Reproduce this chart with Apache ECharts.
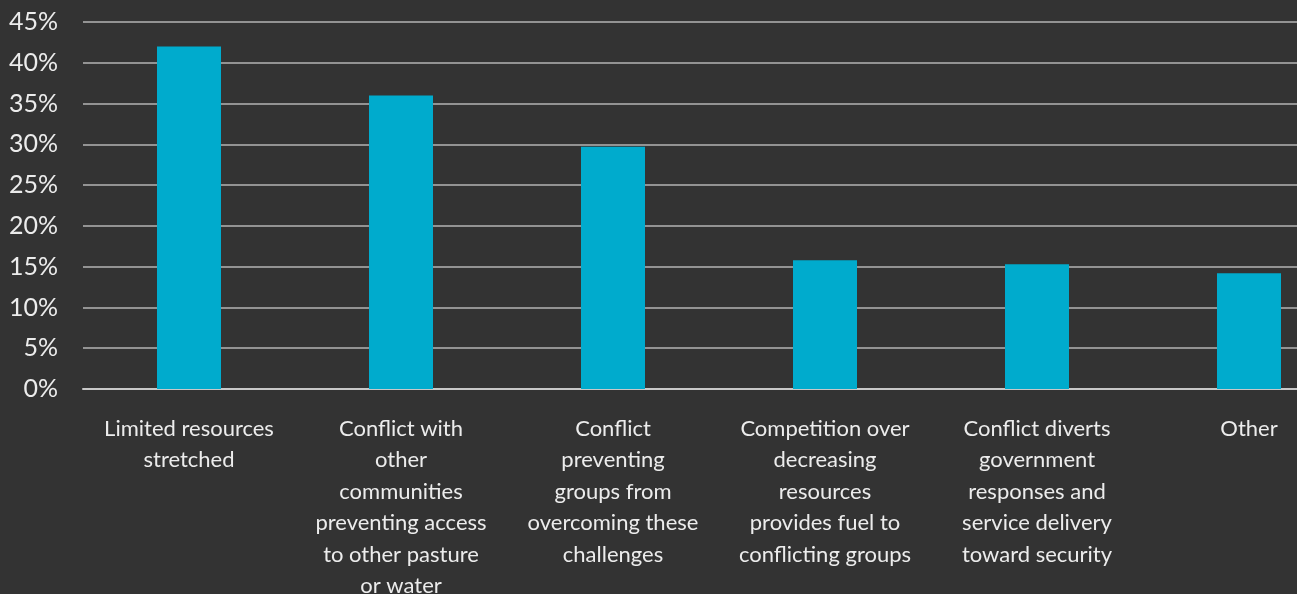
<!DOCTYPE html>
<html><head><meta charset="utf-8">
<script src="https://cdn.jsdelivr.net/npm/echarts@6/dist/echarts.min.js"></script>
<style>html,body{margin:0;padding:0;background:#333333;}#c{width:1297px;height:594px;}</style>
</head><body><div id="c"></div>
<script>
const categories = [
  "Limited resources\nstretched",
  "Conflict with\nother\ncommunities\npreventing access\nto other pasture\nor water",
  "Conflict\npreventing\ngroups from\novercoming these\nchallenges",
  "Competition over\ndecreasing\nresources\nprovides fuel to\nconflicting groups",
  "Conflict diverts\ngovernment\nresponses and\nservice delivery\ntoward security",
  "Other"
];
const values = [42.0, 36.0, 29.7, 15.8, 15.3, 14.2];
const yTicks = [0, 5, 10, 15, 20, 25, 30, 35, 40, 45];

const chart = echarts.init(document.getElementById('c'));
chart.setOption({
  backgroundColor: '#333333',
  animation: false,
  grid: { left: 83, width: 1272, top: 22, height: 367, containLabel: false, outerBoundsMode: 'none' },
  xAxis: {
    type: 'category', data: categories,
    axisLine: { show: true, lineStyle: { color: '#c8c8c8', width: 2 } },
    axisTick: { show: false },
    axisLabel: { color: '#ececec', fontFamily: 'Lato', fontSize: 22, lineHeight: 31.5, margin: 24, interval: 0, align: 'center', verticalAlign: 'top', hideOverlap: false }
  },
  yAxis: {
    type: 'value', min: yTicks[0], max: yTicks[yTicks.length - 1], interval: 5,
    axisLine: { show: false }, axisTick: { show: false },
    splitLine: { lineStyle: { color: '#b4b4b4', width: 1.5 } },
    axisLabel: { color: '#ececec', fontFamily: 'Lato', fontSize: 25, margin: 25, formatter: v => v + '%' }
  },
  series: [{
    type: 'bar', data: values, barWidth: 64,
    itemStyle: { color: '#00ABCD' }
  }]
});
</script></body></html>
